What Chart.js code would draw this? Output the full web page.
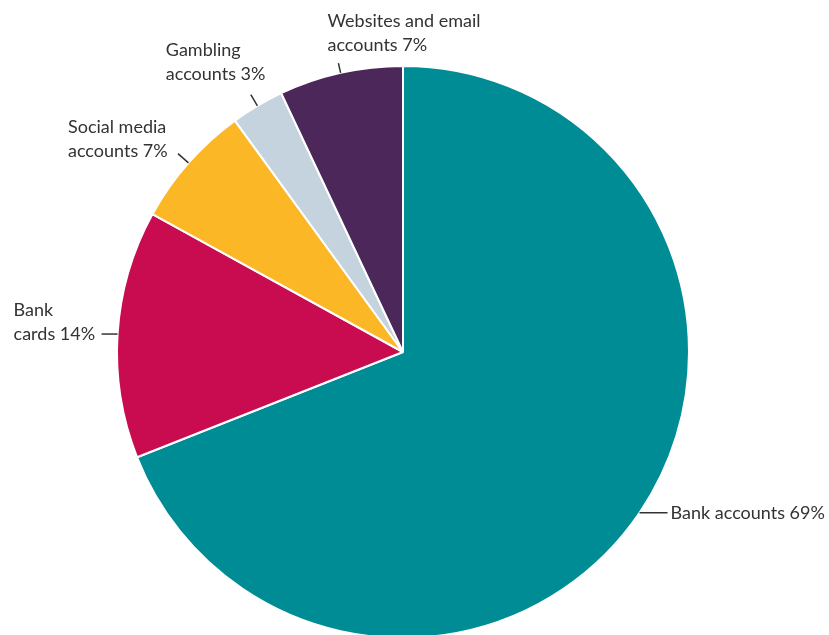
<!DOCTYPE html>
<html>
<head>
<meta charset="utf-8">
<script src="https://cdn.jsdelivr.net/npm/chart.js@4.4.1/dist/chart.umd.min.js"></script>
<style>
  html, body { margin: 0; padding: 0; background: #fff; overflow: hidden; }
  #wrap { position: relative; width: 829px; height: 700px; }
</style>
</head>
<body>
<div id="wrap"><canvas id="chart"></canvas></div>
<script>
// Share of items by account type (%), clockwise from 12 o'clock
const categories = ['Bank accounts', 'Bank cards', 'Social media accounts', 'Gambling accounts', 'Websites and email accounts'];
const shares = [69, 14, 7, 3, 7];
const labelLines = [
  ['Bank accounts 69%'],
  ['Bank', 'cards 14%'],
  ['Social media', 'accounts 7%'],
  ['Gambling', 'accounts 3%'],
  ['Websites and email', 'accounts 7%']
];
const sliceColors = ['#008C95', '#C80C4F', '#FBB726', '#C5D3DF', '#4B2859'];

// Leader line style and text placement for each slice label
const calloutLayout = [
  { mode: 'h', len: 28, dx: 3, dy: 0 },
  { mode: 'h', len: -16, dx: -88, dy: 0 },
  { mode: 'r', len: 14, dx: -110, dy: -2 },
  { mode: 'r', len: 13, dx: -85, dy: -20 },
  { mode: 'r', len: 10, dx: -11, dy: -18 }
];

const FONT = '18px "Source Sans Pro", Lato, "Liberation Sans", sans-serif';

const calloutPlugin = {
  id: 'callouts',
  afterDatasetsDraw(chart) {
    const ctx = chart.ctx;
    const meta = chart.getDatasetMeta(0);
    ctx.save();
    ctx.font = FONT;
    ctx.fillStyle = '#333333';
    ctx.strokeStyle = '#333333';
    ctx.lineWidth = 1.5;
    ctx.textAlign = 'left';
    ctx.textBaseline = 'middle';
    meta.data.forEach((arc, i) => {
      const p = arc.getProps(['x', 'y', 'startAngle', 'endAngle', 'outerRadius'], true);
      const mid = (p.startAngle + p.endAngle) / 2;
      const sx = p.x + Math.cos(mid) * p.outerRadius;
      const sy = p.y + Math.sin(mid) * p.outerRadius;
      const c = calloutLayout[i];
      let ex, ey;
      if (c.mode === 'h') {
        ex = sx + c.len; ey = sy;
      } else {
        ex = sx + Math.cos(mid) * c.len; ey = sy + Math.sin(mid) * c.len;
      }
      ctx.beginPath();
      ctx.moveTo(sx, sy);
      ctx.lineTo(ex, ey);
      ctx.stroke();
      const lines = labelLines[i];
      const lh = 24;
      const tx = ex + c.dx;
      const lastY = ey + c.dy;
      lines.forEach((t, k) => {
        ctx.fillText(t, tx, lastY - (lines.length - 1 - k) * lh);
      });
    });
    ctx.restore();
  }
};

new Chart(document.getElementById('chart'), {
  type: 'pie',
  data: {
    labels: categories,
    datasets: [{
      data: shares,
      backgroundColor: sliceColors,
      borderColor: '#ffffff',
      borderWidth: 2
    }]
  },
  options: {
    responsive: true,
    maintainAspectRatio: false,
    animation: false,
    layout: { padding: { top: 65, left: 116, right: 139, bottom: 61 } },
    plugins: {
      legend: { display: false },
      tooltip: { enabled: false }
    }
  },
  plugins: [calloutPlugin]
});
</script>
</body>
</html>
